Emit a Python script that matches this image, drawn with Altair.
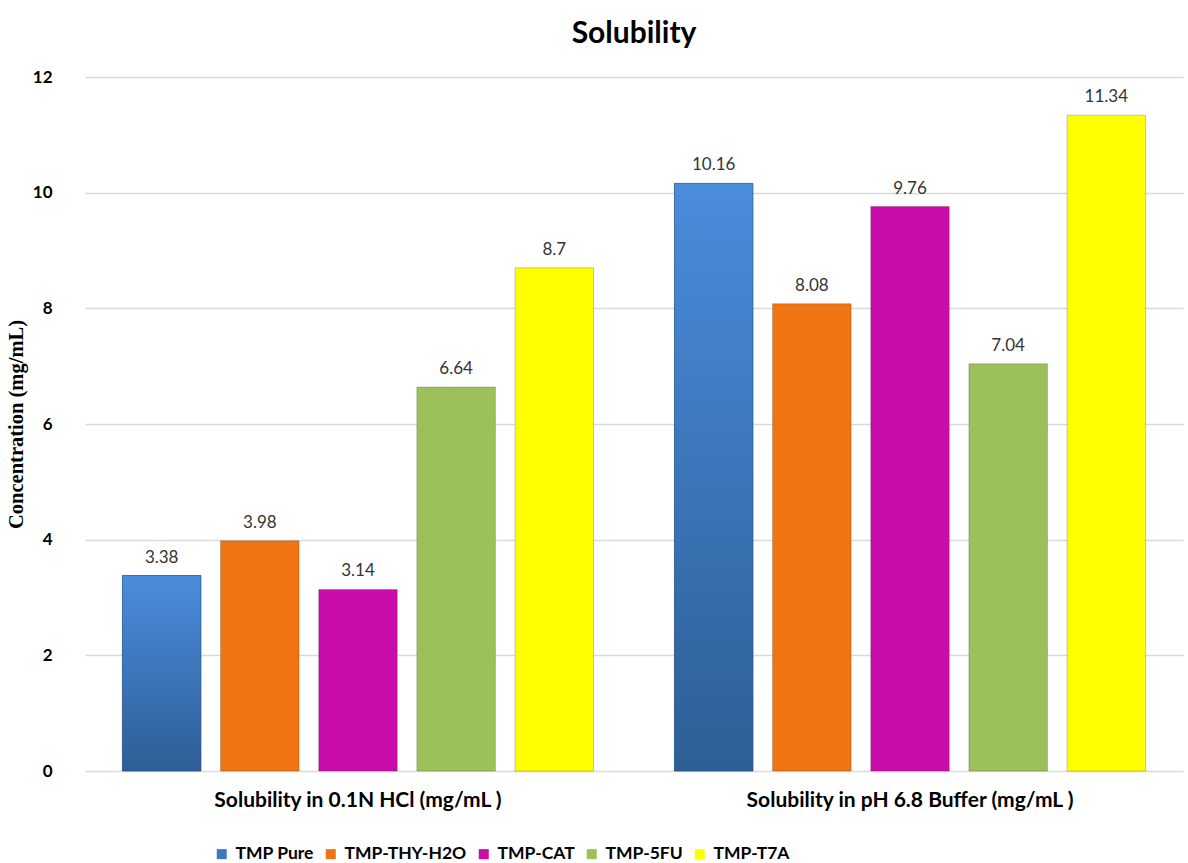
import altair as alt
import pandas as pd

groups = ["Solubility in 0.1N HCl (mg/mL )", "Solubility in pH 6.8 Buffer (mg/mL )"]
series = ["TMP Pure", "TMP-THY-H2O", "TMP-CAT", "TMP-5FU", "TMP-T7A"]
hcl_values = [3.38, 3.98, 3.14, 6.64, 8.7]
buffer_values = [10.16, 8.08, 9.76, 7.04, 11.34]
colors = ["#3B78C4", "#F07412", "#C90DAA", "#9DC15A", "#FFFF00"]

rows = []
for g, vals in zip(groups, [hcl_values, buffer_values]):
    for s, v in zip(series, vals):
        rows.append({"group": g, "series": s, "value": v, "label": f"{v:g}"})
df = pd.DataFrame(rows)

FONT = "Lato"

x_enc = alt.X("group:N", sort=groups, title=None,
              scale=alt.Scale(paddingInner=0.111, paddingOuter=0.05),
              axis=alt.Axis(labelAngle=0, labelFont=FONT, labelFontSize=21, labelFontWeight="bold",
                            labelColor="#000000", labelPadding=18, labelLimit=500,
                            ticks=False, domain=False, grid=False))
xo_enc = alt.XOffset("series:N", sort=series, scale=alt.Scale(paddingInner=0.2, paddingOuter=0.1))
y_enc = alt.Y("value:Q", title="Concentration (mg/mL)",
              scale=alt.Scale(domain=[0, 12]),
              axis=alt.Axis(values=[0, 2, 4, 6, 8, 10, 12], labelFont=FONT, labelFontSize=17,
                            labelFontWeight="bold", labelColor="#000000", labelPadding=33,
                            ticks=False, domain=False, gridColor="#D9D9D9", gridWidth=1.5,
                            titleFont="Liberation Serif", titleFontSize=20.5, titleFontWeight="bold",
                            titleColor="#000000", titlePadding=6))

base = alt.Chart(df)

bars = base.mark_bar(stroke="#000000", strokeOpacity=0.2, strokeWidth=1).encode(
    x=x_enc, xOffset=xo_enc, y=y_enc,
    color=alt.Color("series:N", sort=series, scale=alt.Scale(domain=series, range=colors),
                    legend=alt.Legend(title=None, orient="none", direction="horizontal",
                                      legendX=128, legendY=768, symbolType="square", symbolSize=100,
                                      symbolStrokeWidth=0, labelFont=FONT, labelFontSize=17.5,
                                      labelFontWeight="bold", labelColor="#000000", columnPadding=8,
                                      labelOffset=5, labelLimit=300)),
)

blue_overlay = base.transform_filter(alt.datum.series == "TMP Pure").mark_bar(
    stroke="#1F4E79", strokeOpacity=0.5, strokeWidth=1,
    color=alt.Gradient(gradient="linear", x1=0, x2=0, y1=0, y2=1,
                       stops=[alt.GradientStop(color="#4A8DDC", offset=0),
                              alt.GradientStop(color="#2E5E96", offset=1)])
).encode(x=x_enc, xOffset=xo_enc, y=y_enc)

labels = base.mark_text(baseline="bottom", dy=-9, font=FONT, fontSize=17, color="#333333").encode(
    x=x_enc, xOffset=xo_enc, y=y_enc, text="label:N")

chart = alt.layer(bars, blue_overlay, labels).properties(
    width=1098, height=694,
    title=alt.TitleParams("Solubility", font=FONT, fontSize=30, fontWeight="bold", color="#000000",
                          anchor="middle", offset=19),
    autosize=alt.AutoSizeParams(type="none"),
    padding={"left": 85, "top": 77, "right": 5, "bottom": 92},
    view=alt.ViewBackground(stroke="transparent", strokeWidth=0),
).configure_view(stroke="transparent", strokeWidth=0).configure_axis(
    domain=False, ticks=False
).configure(background="#FFFFFF")

chart.save("out.html", embed_options={"renderer": "svg", "actions": False})
